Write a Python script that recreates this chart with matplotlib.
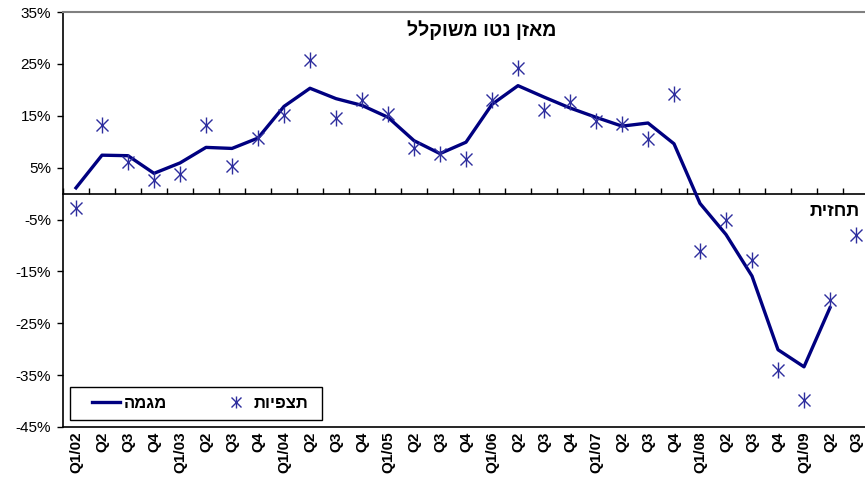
import numpy as np
import matplotlib
matplotlib.use("Agg")
import matplotlib.pyplot as plt
from matplotlib.lines import Line2D
from matplotlib.patches import Rectangle

plt.rcParams['font.family'] = ['Liberation Sans', 'DejaVu Sans']

# quarters Q1/02 .. Q3/09
quarters = ['Q1/02', 'Q2', 'Q3', 'Q4',
            'Q1/03', 'Q2', 'Q3', 'Q4',
            'Q1/04', 'Q2', 'Q3', 'Q4',
            'Q1/05', 'Q2', 'Q3', 'Q4',
            'Q1/06', 'Q2', 'Q3', 'Q4',
            'Q1/07', 'Q2', 'Q3', 'Q4',
            'Q1/08', 'Q2', 'Q3', 'Q4',
            'Q1/09', 'Q2', 'Q3']

# trend line (%), last quarter has no trend value
trend = [1.1, 7.4, 7.3, 3.9, 5.9, 8.9, 8.7, 10.7, 16.8, 20.3,
         18.3, 17.0, 14.7, 10.2, 7.7, 9.9, 17.2, 20.8, 18.6, 16.5,
         14.7, 13.0, 13.6, 9.6, -1.9, -7.9, -15.9, -30.1, -33.4, -22.0,
         np.nan]

# observations (%) - last one is the forecast
observed = [-2.8, 13.2, 6.1, 2.7, 3.8, 13.3, 5.4, 10.7, 15.2, 25.7,
            14.6, 18.1, 15.4, 8.7, 7.7, 6.7, 18.1, 24.2, 16.2, 17.6,
            13.9, 13.4, 10.5, 19.2, -11.0, -5.0, -12.9, -34.1, -39.7, -20.6,
            -7.9]

yticks = [35, 25, 15, 5, -5, -15, -25, -35, -45]

title_txt = 'מאזן נטו משוקלל'
forecast_txt = 'תחזית'
trend_lbl = 'מגמה'
obs_lbl = 'תצפיות'


def heb(s):
    # matplotlib has no bidi, so flip hebrew for display
    return s[::-1]


LINE_C = '#000080'
STAR_C = '#2E2E9E'

fig = plt.figure(figsize=(8.65, 4.88), dpi=100)
ax = fig.add_axes([63 / 865, 61 / 488, 806 / 865, 415 / 488])

x = np.arange(len(quarters))
ax.plot(x, trend, color=LINE_C, lw=2.4, zorder=3)
ax.plot(x, observed, ls='none', marker='x', ms=8, mew=1.0, color=STAR_C, zorder=4)
ax.plot(x, observed, ls='none', marker='|', ms=11, mew=1.0, color=STAR_C, zorder=4)

ax.set_xlim(-0.5, len(quarters) - 0.5)
ax.set_ylim(-45, 35)

ax.set_yticks(yticks)
ax.set_yticklabels([f'{v}%' for v in yticks], fontsize=11)
ax.tick_params(axis='y', direction='out', length=4.5, width=1, pad=4)

ax.set_xticks(x)
ax.set_xticklabels(quarters, rotation=90, fontsize=11, fontweight='bold')
ax.tick_params(axis='x', length=0, pad=3)

for s in ['left', 'bottom']:
    ax.spines[s].set_color('black')
    ax.spines[s].set_linewidth(1.2)
ax.spines['top'].set_color('#808080')
ax.spines['top'].set_linewidth(1.5)
ax.spines['right'].set_color('#808080')

# zero axis with category boundary ticks
zax = ax.secondary_xaxis(0, transform=ax.transData)
zax.set_xticks(np.arange(-0.5, len(quarters), 1.0))
zax.set_xticklabels([])
zax.tick_params(direction='in', length=4, width=1)
zax.spines['bottom'].set_linewidth(1.2)

ax.text(15.6, 31.5, heb(title_txt), ha='center', va='center',
        fontsize=14, fontweight='bold')
ax.text(30.15, -3.5, heb(forecast_txt), ha='right', va='center',
        fontsize=13, fontweight='bold')

# legend (frame drawn separately so the padding matches)
h_line = Line2D([], [], color=LINE_C, lw=2.4)
h_x = Line2D([], [], ls='none', marker='x', ms=6.5, mew=1.0, color=STAR_C)
h_bar = Line2D([], [], ls='none', marker='|', ms=8, mew=1.0, color=STAR_C)
leg = ax.legend([h_line, (h_x, h_bar)], [heb(trend_lbl), heb(obs_lbl)],
                ncol=2, loc='center left', bbox_to_anchor=(29 / 806, 23.5 / 415),
                frameon=False, prop={'weight': 'bold', 'size': 12},
                handlelength=1.7, handletextpad=0.2, columnspacing=3.3,
                borderpad=0, borderaxespad=0)
ax.add_patch(Rectangle((7 / 806, 7 / 415), 252 / 806, 33 / 415,
                       transform=ax.transAxes, fill=False, ec='black',
                       lw=1.0, zorder=5))

fig.savefig('out.png', dpi=100, facecolor='white')
